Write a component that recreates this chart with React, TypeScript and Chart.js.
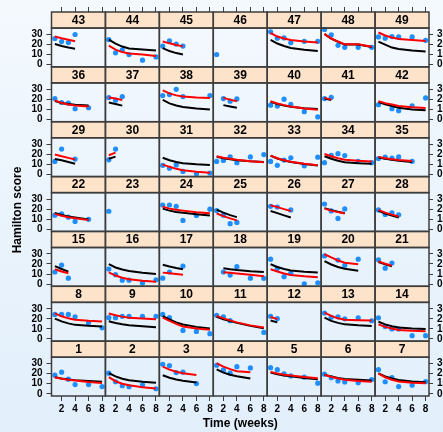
import React, { useEffect, useRef } from 'react';
import { Chart, registerables } from 'chart.js';

Chart.register(...registerables);

const WEEKS = [1, 2, 3, 4, 6, 8];
const X_TICKS = [2, 4, 6, 8];
const Y_TICKS = [0, 10, 20, 30];
const X_TITLE = 'Time (weeks)';
const Y_TITLE = 'Hamilton score';

const PANEL_ROWS = [
  [43, 44, 45, 46, 47, 48, 49],
  [36, 37, 38, 39, 40, 41, 42],
  [29, 30, 31, 32, 33, 34, 35],
  [22, 23, 24, 25, 26, 27, 28],
  [15, 16, 17, 18, 19, 20, 21],
  [8, 9, 10, 11, 12, 13, 14],
  [1, 2, 3, 4, 5, 6, 7],
];

// index = subject - 1
const OBS_WEEKS = [
  [1, 2, 3, 4, 6, 8], [1, 2, 3, 4, 6, 8], [1, 2, 3, 4, 6], [1, 2, 3, 4, 6], [1, 2, 3, 4, 6, 8],
  [1, 2, 3, 4, 6, 8], [1, 2, 3, 4, 6, 8], [1, 2, 3, 4, 6, 8], [1, 2, 3, 4, 6, 8], [1, 2, 4, 6, 8],
  [1, 2, 3, 8], [1, 2], [1, 2, 3, 4, 6, 8], [1, 2, 3, 4, 6, 8], [1, 2, 3],
  [1, 2, 3, 4, 6, 8], [1, 2, 4], [2, 3, 4, 6, 8], [1, 2, 3, 4, 6, 8], [1, 3, 4, 6],
  [1, 2, 3], [1, 2, 3, 4, 6], [1], [1, 2, 3, 4, 6, 8], [1, 2, 3, 4],
  [1, 2, 4], [1, 2, 3, 4], [1, 2, 3, 4], [1, 2, 4], [1, 2],
  [1, 2, 3, 4, 6, 8], [1, 2, 3, 4, 6, 8], [1, 2, 3, 4, 6, 8], [1, 2, 3, 4, 6, 8], [1, 2, 3, 4, 6],
  [1, 2, 3, 4, 6], [1, 2, 3], [1, 2, 3, 4, 8], [2, 3, 4], [1, 2, 3, 4, 6, 8],
  [1, 2], [1, 3, 4, 6, 8], [1, 2, 3, 4], [1, 2, 3, 4, 6, 8], [1, 2, 3, 4],
  [1], [1, 2, 3, 4, 6, 8], [1, 2, 3, 4, 6, 8], [1, 2, 3, 4, 6, 8],
];

const HAMILTON = [
  [18.5, 21.5, 14.5, 9.2, 9.2, 7.2], [20.5, 12, 8, 7, 9, 5], [29.4, 28, 21.1, 21.5, 10.2], [28.4, 23.8, 20.5, 27, 25.7], [26, 24, 19.8, 17.8, 16.5, 10.6],
  [19.5, 16, 12.8, 11.8, 11, 14.2], [24, 12, 16, 7.2, 8.5, 12.2], [24.4, 24.4, 24.4, 22.1, 16, 11.1], [21.2, 21.2, 22.5, 22.5, 22.5, 22.5], [24.4, 21.2, 8.5, 7.5, 5.2],
  [23.5, 22.1, 18.2, 6.5], [22.6, 20.3], [25.8, 21.6, 22, 20, 21, 18.1], [21, 12.3, 10, 10, 3.2, 3.2], [12, 18.9, 5.9],
  [15, 9.4, 3.9, 3.9, 1, 4.2], [5.9, 12, 17.9], [12, 9, 17.3, 5.9, 5.7], [24.8, 15.5, 7.4, 11, 0.3, 1.3], [28, 23.9, 18.7, 24.8],
  [24.2, 15.8, 21], [14, 15.3, 12, 7.8, 9.8], [17.9], [24.1, 24.1, 22.8, 8.8, 13.7, 19.9], [18.6, 14, 5.5, 6.8],
  [22.8, 22.1, 19.2], [25.1, 18.2, 10.7, 20.2], [19.2, 14.7, 16.3, 14.3], [12.9, 25.2, 15.2], [14.5, 25.2],
  [9, 6.1, 9.4, 2.9, 0.6, 1.3], [12.9, 13.9, 17.4, 11.6, 17.4, 19.7], [12.9, 9, 14.2, 16.5, 8.5, 17.1], [11.6, 19, 20.6, 18.7, 12.9, 11.6], [15.8, 17.1, 16.1, 17.4, 13],
  [20.8, 16.9, 16.3, 10.7, 11.7], [21.8, 19.2, 22.8], [23.8, 24.8, 30, 22.8, 23.8], [20.8, 18.2, 20.5], [14.3, 13.4, 20.2, 15, 7.8, 2.6],
  [20.8, 22.1], [14.7, 10.7, 8.8, 13.7, 21.5], [26, 23, 22, 30], [25, 11.8, 14.8, 10, 4.5, 7.7], [18.5, 23.6, 20.5, 18.5],
  [10.1], [32.7, 26.3, 26.6, 21.9, 23.2, 23.2], [35, 29.6, 19.2, 17.2, 17.2, 17.2], [27.6, 26.3, 27.9, 27.6, 27.6, 24.2],
];

// subject-specific fit (red), at WEEKS between first and last observed week
const FIT_SUBJECT = [
  [16.5, 15, 14, 13.2, 11.8, 10.8], [16.5, 12.5, 10, 8.5, 6.5, 5.3], [27, 24, 22, 20.5, 18.8], [30.4, 27, 24.5, 22.5, 21.4], [21.8, 20.2, 19, 18.2, 16.6, 15.5],
  [19, 17, 15.2, 14, 12.8, 12], [20, 16.5, 14, 12.3, 11, 10.4], [25.4, 22.5, 20.5, 19, 18, 17.3], [25.4, 23.5, 22.2, 21.2, 20.3, 19.5], [21.2, 18, 15, 12.4, 10.5, 9.1],
  [23, 20.5, 18.5, 16.5, 13.5, 11.4], [21.9, 19.7], [26.1, 23, 20.5, 19, 18.7, 18.4], [14.5, 12, 10.3, 9, 8.2, 7.7], [14.7, 12.5, 10.7],
  [11.7, 8.5, 6.3, 4.9, 3.4, 2.3], [11.4, 10.8, 10.1, 9.4], [11.8, 11.2, 10.6, 9.2, 7.8], [14.8, 12.5, 10.5, 9, 7.7, 6.8], [29.7, 26.5, 23.5, 21.3, 19.7],
  [22.6, 20.3, 18.4], [15.3, 13.5, 12, 11, 9.1], [], [22.5, 20.5, 19.3, 18.5, 17, 16], [15.6, 13, 10.8, 8.8],
  [23.8, 22, 20, 18.2], [20.5, 18.5, 17, 15.6], [19.2, 16.5, 14.5, 12.7], [19.7, 18, 16.4, 14.8], [19, 21.6],
  [9.7, 7.5, 5.5, 4, 2.5, 1.6], [18, 16.5, 15.5, 14.5, 13, 12], [18.7, 16, 14, 12.6, 10.5, 9], [20.3, 18, 16, 14.5, 13.5, 12.9], [17.4, 16, 15, 14.3, 13.2],
  [19, 16.5, 15, 14, 13], [22, 20.8, 19.5], [29, 26, 24, 23, 22, 21.3], [21.5, 19.8, 18.2], [18.2, 16, 14.3, 13, 11, 9.8],
  [21.5, 19.8], [18.2, 16.3, 15, 13.5, 12.2, 11.4], [28, 26.3, 24.8, 23.3], [19, 15, 12.5, 11, 10, 8.5], [23, 21.2, 19.6, 18.2],
  [], [31.5, 28, 26, 24.5, 23, 22], [30.6, 26, 23, 20.2, 20.2, 17.8], [32, 29, 27, 25.5, 24.5, 23.6],
];

// population fit (black)
const FIT_POPULATION = [
  [16.5, 15.2, 14.2, 13.6, 12.8, 12], [20.5, 17.3, 15, 13.5, 12, 11], [18.5, 16, 14.2, 12.9, 11.2], [24.4, 21, 19, 17.5, 15.2], [21.1, 19.5, 18.2, 17.4, 15.8, 14.5],
  [19, 17.3, 15.8, 14.7, 14, 13.3], [20.3, 17.3, 15.3, 13.8, 12.3, 11.6], [20.2, 17.5, 15.5, 14, 13, 12.4], [17.6, 15.8, 14.6, 13.7, 12.6, 11.7], [22.8, 19.5, 16.5, 14.3, 12, 10.4],
  [22, 19.5, 17.9, 16, 13, 10.7], [18.4, 16.5], [21.3, 18, 16, 14.5, 13.5, 12.9], [17.1, 14.5, 12.7, 11.3, 10.5, 10], [17.9, 15, 12.4],
  [19.9, 16.5, 14.5, 13, 11.3, 10.1], [19.2, 17.5, 16, 14.7], [15.8, 14.8, 14, 12.8, 12], [19.7, 17, 15, 13.5, 12.3, 11.6], [22.9, 19.5, 17, 15.2, 13.2],
  [22, 19.7, 17.7], [16.3, 14.2, 12.7, 11.7, 9.8], [], [20.5, 18.5, 17.2, 16.3, 14.8, 13.7], [19.5, 16.5, 14, 12],
  [18.2, 16, 13.8, 11.7], [21, 19, 17.3, 16], [18.2, 15.5, 13.5, 11.7], [15.2, 14, 12.3, 10.6], [15.5, 17.7],
  [16.5, 14, 12.3, 11, 10, 9.4], [17.5, 16, 15, 14, 13, 12.3], [18.5, 15.8, 13.8, 12.4, 10.3, 8.8], [18, 15.5, 13.5, 12, 11, 10.6], [16.8, 15.5, 14.5, 13.5, 12.3],
  [18.5, 16.5, 15.5, 14.8, 14], [17, 15.4, 13.8], [19.5, 16, 14, 12.5, 11, 10], [14.3, 13, 11.7], [17.6, 15.5, 14, 12.8, 11.2, 10.4],
  [21, 19.5], [17.3, 15.2, 13.5, 11.8, 10, 9.1], [20.5, 18.5, 17, 15.8], [25, 21, 18, 16, 15, 14], [16.5, 13.5, 11.5, 10],
  [], [24.6, 21, 18.5, 16.5, 14.8, 13.5], [30.4, 25.8, 22.8, 20, 20, 17.6], [23, 20, 17, 15.5, 14, 13],
];

const FONT = '"Liberation Sans", Arial, Helvetica, sans-serif';
const PLOT_MIN = -2.2;
const PLOT_MAX = 36.4;
const Y_MAX = 52.4; // includes strip space
const X_MIN = 0.5;
const X_MAX = 8.5;
const STRIP_FILL = '#fde3c9';
const BORDER = '#3d3d3d';

const W = 443;
const H = 432;

function buildDatasets() {
  const ds: any[] = [];
  PANEL_ROWS.forEach((row, r) => {
    row.forEach((id, c) => {
      const i = id - 1;
      const wk = OBS_WEEKS[i];
      const lo = Math.min(...wk);
      const hi = Math.max(...wk);
      const lineWeeks = WEEKS.filter((w) => w >= lo && w <= hi);
      const xAxisID = 'xb' + c;
      const yAxisID = 'yl' + r;
      ds.push({
        type: 'scatter',
        data: wk.map((w, k) => ({ x: w, y: HAMILTON[i][k] })),
        xAxisID, yAxisID,
        pointRadius: 2.6,
        pointBackgroundColor: '#1f8fff',
        pointBorderWidth: 0,
        showLine: false,
        order: 2,
      });
      ds.push({
        type: 'scatter',
        data: FIT_POPULATION[i].map((v, k) => ({ x: lineWeeks[k], y: v })),
        xAxisID, yAxisID,
        showLine: true,
        borderColor: '#000000',
        borderWidth: 2,
        pointRadius: 0,
        tension: 0,
        order: 1,
      });
      ds.push({
        type: 'scatter',
        data: FIT_SUBJECT[i].map((v, k) => ({ x: lineWeeks[k], y: v })),
        xAxisID, yAxisID,
        showLine: true,
        borderColor: '#ff0000',
        borderWidth: 2,
        pointRadius: 0,
        tension: 0,
        order: 0,
      });
    });
  });
  return ds;
}

function buildScales() {
  const scales: any = {};
  const tickFont = { family: FONT, size: 10, weight: 'bold' as const };
  for (let c = 0; c < 7; c++) {
    scales['xb' + c] = {
      type: 'linear', axis: 'x', position: 'bottom', stack: 'xb', weight: c,
      min: X_MIN, max: X_MAX,
      afterBuildTicks: (s: any) => { s.ticks = X_TICKS.map((v) => ({ value: v })); },
      afterFit: (s: any) => { s.height = 36; s.paddingLeft = 0; s.paddingRight = 0; },
      grid: { drawOnChartArea: false, drawTicks: true, tickLength: 5, color: BORDER, lineWidth: 1 },
      border: { display: false },
      ticks: { font: tickFont, color: '#000', padding: 2, maxRotation: 0, autoSkip: false },
    };
    scales['xt' + c] = {
      type: 'linear', axis: 'x', position: 'top', stack: 'xt', weight: 6 - c,
      min: X_MIN, max: X_MAX,
      afterBuildTicks: (s: any) => { s.ticks = X_TICKS.map((v) => ({ value: v })); },
      afterFit: (s: any) => { s.height = 12; s.paddingLeft = 0; s.paddingRight = 0; },
      grid: { drawOnChartArea: false, drawTicks: true, tickLength: 5, color: BORDER, lineWidth: 1 },
      border: { display: false },
      ticks: { font: tickFont, color: 'rgba(0,0,0,0)', padding: 2, maxRotation: 0, autoSkip: false },
    };
  }
  for (let r = 0; r < 7; r++) {
    scales['yl' + r] = {
      type: 'linear', axis: 'y', position: 'left', stack: 'yl', weight: 6 - r,
      min: PLOT_MIN, max: Y_MAX,
      afterBuildTicks: (s: any) => { s.ticks = Y_TICKS.map((v) => ({ value: v })); },
      afterFit: (s: any) => { s.width = 51.5; s.paddingTop = 0; s.paddingBottom = 0; },
      grid: { drawOnChartArea: false, drawTicks: true, tickLength: 5, color: BORDER, lineWidth: 1 },
      border: { display: false },
      ticks: { font: tickFont, color: '#000', padding: 4, autoSkip: false },
    };
    scales['yr' + r] = {
      type: 'linear', axis: 'y', position: 'right', stack: 'yr', weight: r,
      min: PLOT_MIN, max: Y_MAX,
      afterBuildTicks: (s: any) => { s.ticks = Y_TICKS.map((v) => ({ value: v })); },
      afterFit: (s: any) => { s.width = 14; s.paddingTop = 0; s.paddingBottom = 0; },
      grid: { drawOnChartArea: false, drawTicks: true, tickLength: 4, color: BORDER, lineWidth: 1 },
      border: { display: false },
      ticks: { font: tickFont, color: '#000', padding: 4, autoSkip: false },
    };
  }
  return scales;
}

const panelPlugin = {
  id: 'latticePanels',
  beforeDatasetsDraw(chart: any) {
    const ctx = chart.ctx;
    ctx.save();
    PANEL_ROWS.forEach((row, r) => {
      row.forEach((id, c) => {
        const xs = chart.scales['xb' + c];
        const ys = chart.scales['yl' + r];
        const l = xs.left, rt = xs.right, t = ys.top;
        const st = ys.getPixelForValue(PLOT_MAX);
        ctx.fillStyle = STRIP_FILL;
        ctx.fillRect(l, t, rt - l, st - t);
        ctx.fillStyle = '#000';
        ctx.font = 'bold 12px ' + FONT;
        ctx.textAlign = 'center';
        ctx.textBaseline = 'middle';
        ctx.fillText(String(id), (l + rt) / 2, (t + st) / 2 + 0.5);
      });
    });
    ctx.restore();
  },
  afterDatasetsDraw(chart: any) {
    const ctx = chart.ctx;
    ctx.save();
    ctx.strokeStyle = BORDER;
    ctx.lineWidth = 1.5;
    PANEL_ROWS.forEach((row, r) => {
      row.forEach((_id, c) => {
        const xs = chart.scales['xb' + c];
        const ys = chart.scales['yl' + r];
        const l = xs.left, rt = xs.right, t = ys.top, b = ys.bottom;
        const st = ys.getPixelForValue(PLOT_MAX);
        ctx.strokeRect(l, t, rt - l, st - t);
        ctx.strokeRect(l, st, rt - l, b - st);
      });
    });
    ctx.restore();
  },
  afterDraw(chart: any) {
    const ctx = chart.ctx;
    const a = chart.chartArea;
    ctx.save();
    ctx.fillStyle = '#000';
    ctx.font = 'bold 12px ' + FONT;
    ctx.textAlign = 'center';
    ctx.textBaseline = 'middle';
    ctx.fillText(X_TITLE, (a.left + a.right) / 2, 424);
    ctx.translate(18, (a.top + a.bottom) / 2 + 6);
    ctx.rotate(-Math.PI / 2);
    ctx.fillText(Y_TITLE, 0, 0);
    ctx.restore();
  },
};

export default function App() {
  const ref = useRef<HTMLCanvasElement | null>(null);
  useEffect(() => {
    if (!ref.current) return;
    const chart = new Chart(ref.current, {
      type: 'scatter',
      data: { datasets: buildDatasets() },
      options: {
        animation: false,
        responsive: false,
        devicePixelRatio: 1,
        layout: { padding: 0 },
        plugins: { legend: { display: false }, tooltip: { enabled: false }, title: { display: false } },
        scales: buildScales(),
      } as any,
      plugins: [panelPlugin],
    } as any);
    return () => chart.destroy();
  }, []);
  return (
    <div
      style={{
        position: 'absolute',
        left: 0,
        top: 0,
        width: W,
        height: H,
        overflow: 'hidden',
        background: 'linear-gradient(180deg, #f4f9fe 0%, #e9f3fc 55%, #e2effb 100%)',
      }}
    >
      <canvas ref={ref} width={W} height={H} style={{ display: 'block', width: W, height: H }} />
    </div>
  );
}
